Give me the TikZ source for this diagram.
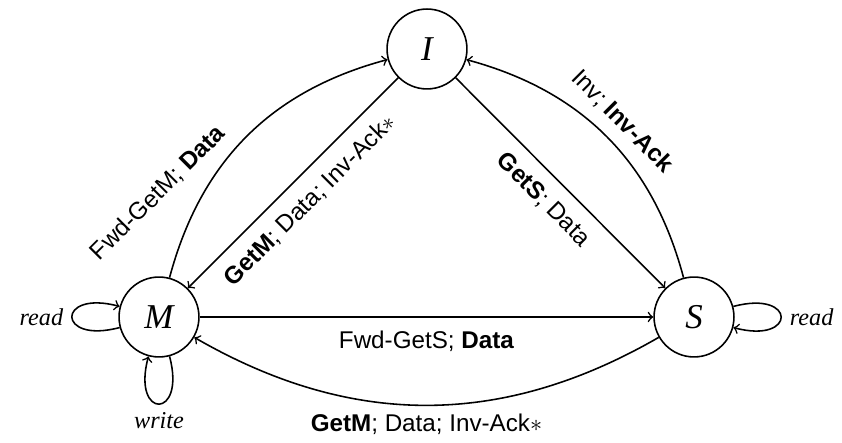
\documentclass[tikz,border=0pt]{standalone}
\usepackage{fontspec}
\setmainfont{Liberation Serif}
\setsansfont{Liberation Sans}
\begin{document}
\begin{tikzpicture}[x=0.413pt,y=0.413pt,
  state/.style={circle,draw,line width=0.65pt,minimum size=33pt,inner sep=0pt,font=\Large\itshape},
  trans/.style={->,line width=0.65pt},
  lbl/.style={font=\sffamily},
  looplbl/.style={font=\itshape}]
\useasboundingbox (0,0) rectangle (842,443);
\node[state] (I) at (427,394) {I};
\node[state] (M) at (159,126) {M};
\node[state] (S) at (694,126) {S};
\draw[trans] (M) to node[lbl,below,inner sep=5.5pt] (l1) {Fwd-GetS; \textbf{Data}} (S);
\draw[trans] (S) to[bend left=30] node[lbl,below] (l2) {\textbf{GetM}; Data; Inv-Ack$\ast$} (M);
\draw[trans] (I) to node[lbl,sloped,below,inner sep=5.5pt] (l3) {\textbf{GetM}; Data; Inv-Ack$\ast$} (M);
\draw[trans] (I) to node[lbl,sloped,below,inner sep=5.5pt] (l4) {\textbf{GetS}; Data} (S);
\draw[trans] (S) to[bend right=30] node[lbl,sloped,above,inner sep=4.5pt] (l5) {Inv; \textbf{Inv-Ack}} (I);
\draw[trans] (M) to[bend left=30] (I);
\node[lbl,rotate=45] (l6) at (158,250) {Fwd-GetM; \textbf{Data}};
\draw[trans] (M) to[loop left] node[looplbl,left] (r1) {read} (M);
\draw[trans] (M) to[loop below] node[looplbl,below] (w1) {write} (M);
\draw[trans] (S) to[loop right] node[looplbl,right] (r2) {read} (S);
\end{tikzpicture}
\end{document}
